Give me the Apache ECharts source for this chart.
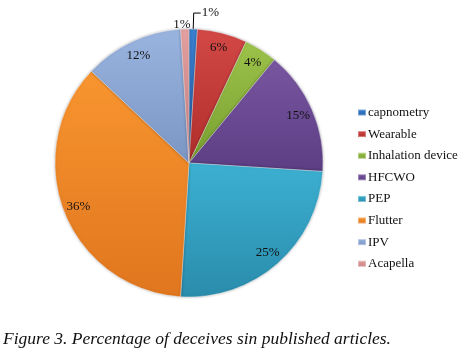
<!DOCTYPE html>
<html>
<head>
<meta charset="utf-8">
<script src="https://cdn.jsdelivr.net/npm/echarts@6/dist/echarts.min.js"></script>
<style>
  html, body { margin: 0; padding: 0; background: #fff; }
  #chart { width: 467px; height: 354px; }
</style>
</head>
<body>
<div id="chart"></div>
<script>
// data
var names = ['capnometry', 'Wearable', 'Inhalation device', 'HFCWO', 'PEP', 'Flutter', 'IPV', 'Acapella'];
var values = [1, 6, 4, 15, 25, 36, 12, 1];
var topColors = ['#3a80d0', '#d24845', '#9cc24a', '#7856a0', '#3cb0d2', '#f8952f', '#9ab4e0', '#e4a0a0'];
var bottomColors = ['#2762ac', '#b02e2c', '#78a030', '#5c3e84', '#2a8cac', '#e0761e', '#7c96c4', '#c88080'];
var caption = 'Figure 3. Percentage of deceives sin published articles.';

var serif = 'Liberation Serif';

function grad(i) {
  return new echarts.graphic.LinearGradient(0, 0, 0, 1, [
    { offset: 0, color: topColors[i] },
    { offset: 1, color: bottomColors[i] }
  ]);
}

var pieData = [];
var labelData = [];
for (var i = 0; i < names.length; i++) {
  var item = { name: names[i], value: values[i], itemStyle: { color: grad(i) } };
  if (values[i] > 1) {
    item.label = { show: false };
    item.labelLine = { show: false };
  }
  pieData.push(item);
  labelData.push({ name: names[i], value: values[i], label: { show: values[i] > 1 } });
}
// the two 1% slices get their labels outside
pieData[0].label = { show: true };
pieData[0].labelLine = { show: true, length: 16, length2: 7 };
pieData[7].label = { show: true };
pieData[7].labelLine = { show: false, length: 4, length2: 0 };

var chart = echarts.init(document.getElementById('chart'));
var option = {
  animation: false,
  legend: {
    orient: 'vertical',
    left: 352,
    top: 101,
    data: names,
    icon: 'rect',
    itemWidth: 8,
    itemHeight: 6,
    itemGap: 8.6,
    textStyle: { fontFamily: serif, fontSize: 13, color: '#111', lineHeight: 13, padding: [0, 0, 0, -3] }
  },
  graphic: [{
    type: 'text',
    left: 3,
    top: 330,
    style: { text: caption, fontFamily: serif, fontStyle: 'italic', fontSize: 17.5, fill: '#111' }
  }],
  series: [{
    type: 'pie',
    center: [189, 163],
    radius: [0, 134],
    startAngle: 90,
    clockwise: true,
    avoidLabelOverlap: false,
    data: pieData,
    itemStyle: { borderColor: 'rgba(255,255,255,0.35)', borderWidth: 1, shadowBlur: 3, shadowColor: 'rgba(0,0,0,0.3)' },
    label: {
      position: 'outside',
      formatter: '{c}%',
      fontFamily: serif,
      fontSize: 13,
      color: '#111',
      distanceToLabelLine: 1
    },
    labelLine: { lineStyle: { color: '#000', width: 1 } },
    labelLayout: function (p) {
      return p.dataIndex === 7 ? { dx: 7 } : {};
    },
    emphasis: { disabled: true }
  }, {
    type: 'pie',
    center: [189, 163],
    radius: [98, 134],
    startAngle: 90,
    clockwise: true,
    silent: true,
    avoidLabelOverlap: false,
    data: labelData,
    itemStyle: { color: 'rgba(0,0,0,0)', borderWidth: 0 },
    label: {
      position: 'inside',
      formatter: '{c}%',
      fontFamily: serif,
      fontSize: 13,
      color: '#111'
    },
    labelLine: { show: false },
    emphasis: { disabled: true }
  }]
};
chart.setOption(option);
</script>
</body>
</html>
